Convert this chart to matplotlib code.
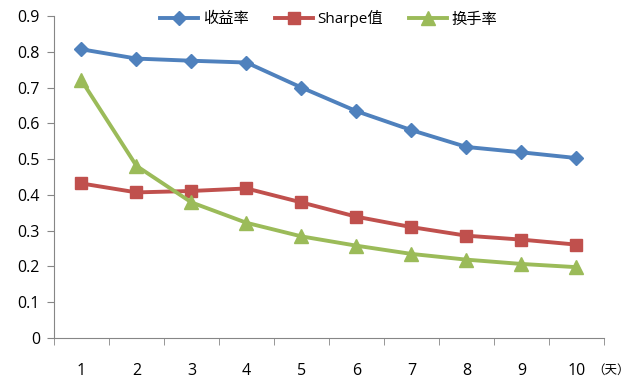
import numpy as np
import matplotlib.pyplot as plt

plt.rcParams['font.family'] = ['Open Sans', 'Noto Sans CJK SC', 'DejaVu Sans']

days = [1, 2, 3, 4, 5, 6, 7, 8, 9, 10]
returns = [0.807, 0.781, 0.775, 0.770, 0.700, 0.634, 0.581, 0.534, 0.519, 0.503]
sharpe = [0.432, 0.407, 0.411, 0.418, 0.379, 0.339, 0.310, 0.286, 0.275, 0.261]
turnover = [0.720, 0.481, 0.379, 0.322, 0.284, 0.258, 0.235, 0.219, 0.207, 0.198]
names = ["收益率", "Sharpe值", "换手率"]
yticks = [0, 0.1, 0.2, 0.3, 0.4, 0.5, 0.6, 0.7, 0.8, 0.9]
ylabels = ["0", "0.1", "0.2", "0.3", "0.4", "0.5", "0.6", "0.7", "0.8", "0.9"]

BLUE = "#4F81BD"
RED = "#C0504D"
GREEN = "#9BBB59"
GRAY = "#868686"


def main():
    fig = plt.figure(figsize=(6.3, 3.87), dpi=100)
    ax = fig.add_axes([0.0857, 0.1266, 0.873, 0.832])

    ax.plot(days, returns, color=BLUE, lw=2.8, marker="D", ms=7.5, label=names[0])
    ax.plot(days, sharpe, color=RED, lw=2.8, marker="s", ms=8.5, label=names[1])
    ax.plot(days, turnover, color=GREEN, lw=2.8, marker="^", ms=9.5, label=names[2])

    ax.set_xlim(0.5, 10.5)
    ax.set_ylim(0, 0.9)
    ax.set_yticks(yticks)
    ax.set_yticklabels(ylabels)
    ax.set_xticks(days)
    ax.set_xticks(np.arange(0.5, 10.6, 1), minor=True)
    ax.tick_params(axis="x", which="major", length=0, pad=18, labelsize=11.5)
    ax.tick_params(axis="x", which="minor", length=5, color=GRAY, direction="out")
    ax.tick_params(axis="y", length=5, color=GRAY, direction="out", pad=5, labelsize=11.5)

    for side in ("top", "right"):
        ax.spines[side].set_visible(False)
    for side in ("left", "bottom"):
        ax.spines[side].set_color(GRAY)

    fig.text(0.999, (387 - 370) / 387, "（天）", fontsize=9,
             ha="right", va="center", family=["Noto Sans CJK SC"])

    ax.legend(loc="upper center", bbox_to_anchor=(0.5, 1.06), ncol=3,
              frameon=False, handlelength=2.5, columnspacing=1.7,
              handletextpad=0.3, prop={"family": ["Open Sans", "Noto Sans CJK SC"], "size": 11})

    fig.savefig("out.png", dpi=100)


if __name__ == "__main__":
    main()
